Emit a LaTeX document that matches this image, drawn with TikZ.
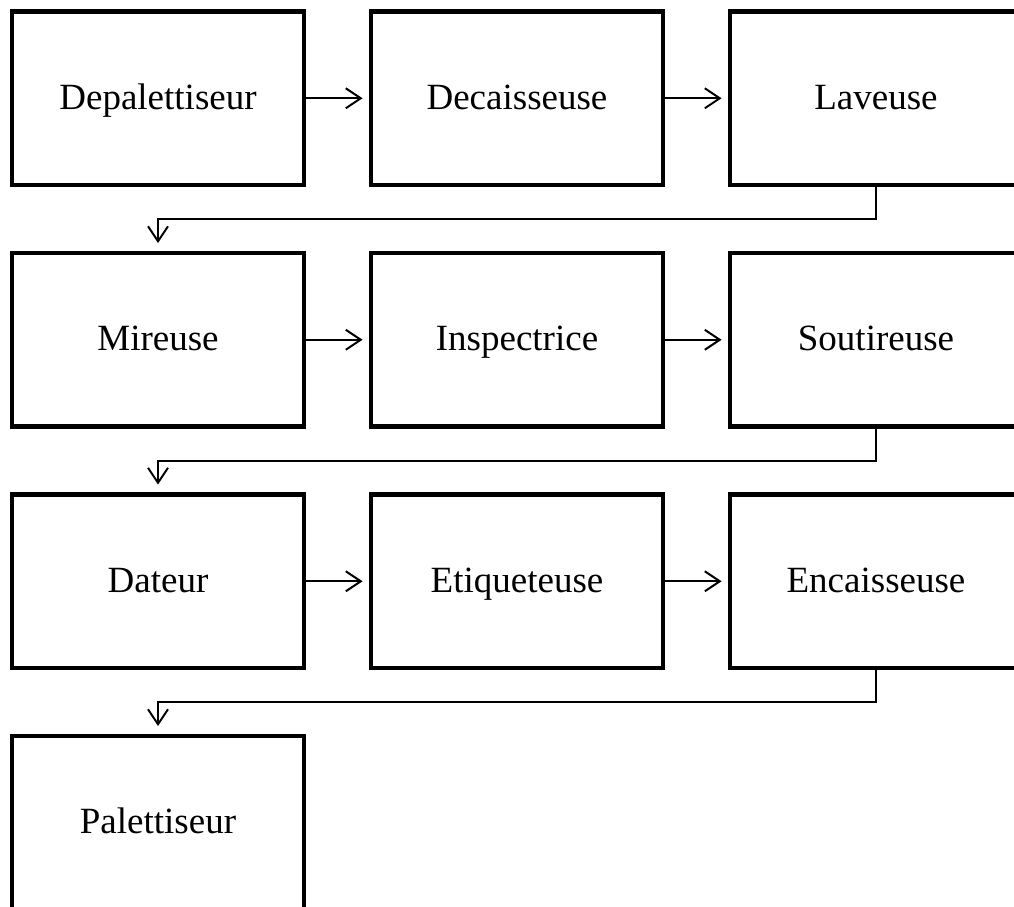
\documentclass[tikz,border=0pt]{standalone}
\usepackage{fontspec}
\setmainfont{Liberation Serif}
\usetikzlibrary{arrows.meta, calc}
\usetikzlibrary{positioning}

\begin{document}
\begin{tikzpicture}[x=1pt, y=1pt,
    poste/.style={draw, line width=4.8pt, minimum width=292pt, minimum height=173.5pt, text height=31pt, text depth=9pt, font=\fontsize{37}{44}\selectfont},
    flux/.style={line width=2pt, -{Straight Barb[length=15pt, width=20pt, line width=2pt]}}]
    \useasboundingbox (0,0) rectangle (1014,-906);
    \clip (0,0) rectangle (1014,-906);
    \node[poste] at (158,-98.25) (Dep) {Depalettiseur};
    \node[poste] at (517,-98.25) (Dec) {Decaisseuse};
    \node[poste] at (876,-98.25) (Lav) {Laveuse};
    \node[poste] at (158,-339.75) (Mir) {Mireuse};
    \node[poste] at (517,-339.75) (Ins) {Inspectrice};
    \node[poste] at (876,-339.75) (Sou) {Soutireuse};
    \node[poste] at (158,-581.25) (Dat) {Dateur};
    \node[poste] at (517,-581.25) (Eti) {Etiqueteuse};
    \node[poste] at (876,-581.25) (Enc) {Encaisseuse};
    \node[poste] at (158,-822.75) (Pal) {Palettiseur};
    % sur une ligne
    \draw[flux, shorten >=6pt] (Dep.east) -- (Dec.west);
    \draw[flux, shorten >=6pt] (Dec.east) -- (Lav.west);
    \draw[flux, shorten >=6pt] (Mir.east) -- (Ins.west);
    \draw[flux, shorten >=6pt] (Ins.east) -- (Sou.west);
    \draw[flux, shorten >=6pt] (Dat.east) -- (Eti.west);
    \draw[flux, shorten >=6pt] (Eti.east) -- (Enc.west);
    % retour a la ligne
    \draw[flux, shorten >=7.5pt] (Lav.south) -- ($(Lav.south)!0.5!(Lav.south |- Mir.north)$) -| (Mir.north);
    \draw[flux, shorten >=7.5pt] (Sou.south) -- ($(Sou.south)!0.5!(Sou.south |- Dat.north)$) -| (Dat.north);
    \draw[flux, shorten >=7.5pt] (Enc.south) -- ($(Enc.south)!0.5!(Enc.south |- Pal.north)$) -| (Pal.north);
\end{tikzpicture}
\end{document}
